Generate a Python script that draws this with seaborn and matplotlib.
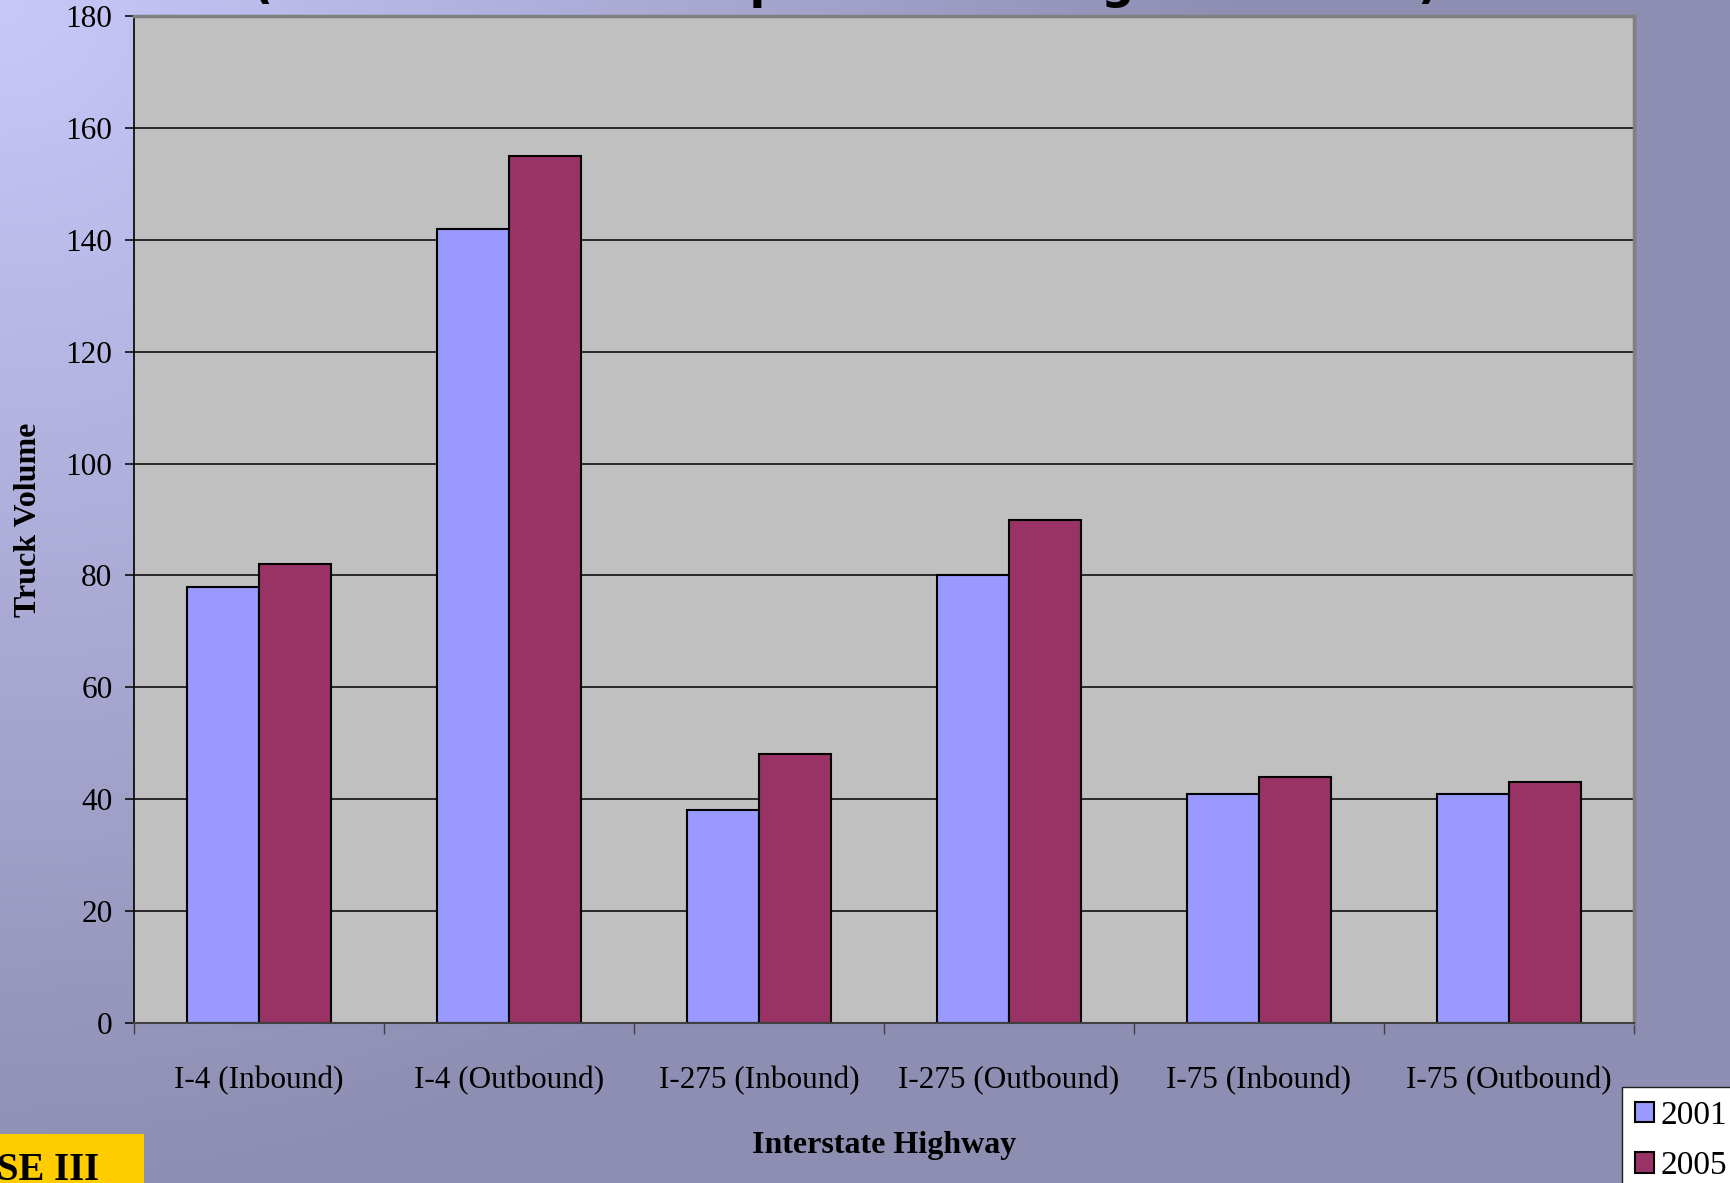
import numpy as np
import pandas as pd
import matplotlib
matplotlib.use("Agg")
import matplotlib.pyplot as plt
import seaborn as sns
from matplotlib.patches import Rectangle

highways = ['I-4 (Inbound)', 'I-4 (Outbound)', 'I-275 (Inbound)',
            'I-275 (Outbound)', 'I-75 (Inbound)', 'I-75 (Outbound)']
years = ['2001', '2005']
vol_2001 = [78, 142, 38, 80, 41, 41]
vol_2005 = [82, 155, 48, 90, 44, 43]
yticks = list(range(0, 181, 20))
colors = ['#9999ff', '#993366']

df = pd.DataFrame({
    'highway': highways * 2,
    'year': [years[0]] * len(highways) + [years[1]] * len(highways),
    'volume': vol_2001 + vol_2005,
})

plt.rcParams['font.family'] = ['Liberation Serif', 'DejaVu Serif']

W, H = 1730, 1183
fig = plt.figure(figsize=(W / 100, H / 100), dpi=100)

# slide background: radial gradient from top-left corner
bg = fig.add_axes([0, 0, 1, 1], zorder=-5)
yy, xx = np.mgrid[0:H:4, 0:W:4]
t = np.clip(np.hypot(xx, yy * 1.05) / 1250.0, 0, 1)[..., None]
light = np.array([200, 200, 250]) / 255
dark = np.array([142, 142, 178]) / 255
bg.imshow(light * (1 - t) + dark * t, extent=[0, 1, 0, 1], aspect='auto', origin='upper')
bg.axis('off')

# clipped slide title and footer tag
fig.text(846 / W, 1 + 1.5 / H, '(Truck Volume Comparison During Peak Hour)',
         family='DejaVu Sans', weight='bold', fontsize=33, ha='center', va='baseline')
fig.patches.append(Rectangle((-0.01, -0.01), 0.01 + 144 / W, 0.01 + 49 / H,
                             transform=fig.transFigure, facecolor='#ffcc00',
                             edgecolor='none', zorder=1))
fig.text(99 / W, 3 / H, 'PHASE III', weight='bold', fontsize=28, ha='right',
         va='baseline', zorder=2)

ax = fig.add_axes([134 / W, (H - 1023) / H, 1500 / W, 1007 / H], zorder=1)
ax.set_facecolor('#c0c0c0')

sns.barplot(data=df, x='highway', y='volume', hue='year', palette=colors,
            saturation=1, edgecolor='black', linewidth=1.5, width=0.573,
            gap=0, ax=ax)

ax.set_xlim(-0.5, 5.5)
ax.set_ylim(0, 180)
ax.set_yticks(yticks)
ax.yaxis.grid(True, color='black', linewidth=1.1)
ax.set_axisbelow(True)

ax.set_xticks(range(len(highways)))
ax.set_xticklabels(highways, fontsize=22.5)
ax.set_xticks(np.arange(-0.5, len(highways), 1), minor=True)
ax.tick_params(axis='x', which='major', length=0, pad=31)
ax.tick_params(axis='x', which='minor', length=8, width=1, color='#404040', direction='out')
ax.tick_params(axis='y', length=6.5, width=1.1, pad=9, labelsize=22.5, direction='out')

for side in ['top', 'right']:
    ax.spines[side].set_color('#808080')
    ax.spines[side].set_linewidth(2.5)
ax.spines['left'].set_color('black')
ax.spines['left'].set_linewidth(1.2)
ax.spines['bottom'].set_color('#404040')
ax.spines['bottom'].set_linewidth(1.5)

ax.set_xlabel('Interstate Highway', fontsize=23, weight='bold')
ax.xaxis.set_label_coords(0.5, -0.122)
ax.xaxis.label.set_va('center')
ax.set_ylabel('Truck Volume', fontsize=23, weight='bold')
ax.yaxis.set_label_coords(-0.0705, 0.5)
ax.yaxis.label.set_va('center')

leg = ax.legend(loc='upper left', bbox_to_anchor=(1622 / W, 1 - 1087 / H),
                bbox_transform=fig.transFigure, borderaxespad=0, fontsize=24,
                frameon=True, fancybox=False, framealpha=1, edgecolor='#202020',
                handlelength=0.57, handleheight=0.57, handletextpad=0.2,
                labelspacing=0.6, borderpad=0.4, title=None)
leg.get_frame().set_linewidth(1.0)
leg.get_frame().set_facecolor('white')

fig.savefig('out.png', dpi=100, facecolor=fig.get_facecolor())
